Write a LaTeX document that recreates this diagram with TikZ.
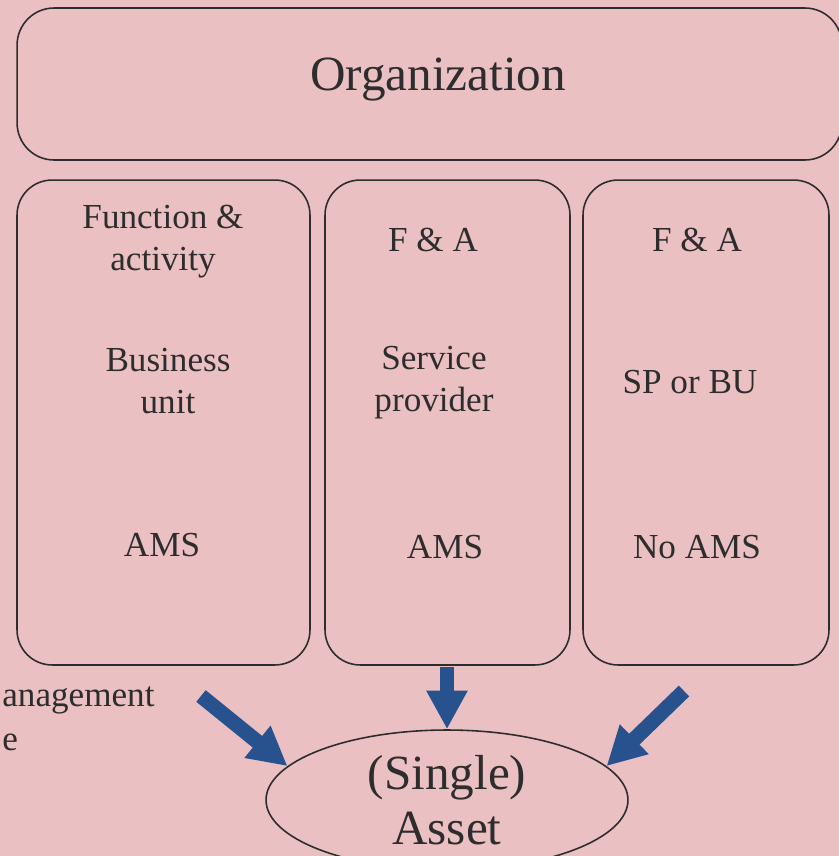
\documentclass[tikz,border=0pt]{standalone}
\usepackage{fontspec}
\setmainfont{Liberation Serif}
\usetikzlibrary{shapes.geometric,arrows.meta}
\definecolor{paper}{RGB}{234,192,195}
\definecolor{ink}{RGB}{45,45,45}
\definecolor{arrowblue}{RGB}{40,82,142}
\tikzstyle{panel}=[rounded corners=0.7cm, draw=ink, line width=0.9pt, minimum height=9.7cm, inner sep=0pt]
\tikzstyle{boxtext}=[text=ink, align=center, inner sep=0pt, font=\fontsize{20}{24}\selectfont]
\tikzstyle{bigtext}=[text=ink, align=center, font=\fontsize{28}{31}\selectfont]
\tikzstyle{push}=[arrowblue, line width=8.5pt, -{Triangle[width=22pt, length=22pt]}]

\begin{document}
\begin{tikzpicture}[x=0.02cm, y=-0.02cm]

\fill[paper] (0,0) rectangle (839,856);
\useasboundingbox (0,0) rectangle (839,856);

\node[draw=ink, line width=0.9pt, rounded corners=0.74cm, minimum width=16.5cm, minimum height=3.04cm, inner sep=0pt] (org) at (429.5,84) {};
\node[bigtext] (orgtext) at (438,80) {Organization};

\node[panel, minimum width=5.86cm] (unit) at (163.5,422.5) {};
\node[panel, minimum width=4.9cm] (provider) at (447.5,422.5) {};
\node[panel, minimum width=4.92cm] (other) at (706,422.5) {};

\node[boxtext] (fa1) at (163,242) {Function \&\\activity};
\node[boxtext] (bu) at (168,381) {Business\\unit};
\node[boxtext] (ams1) at (162,545) {AMS};

\node[boxtext] (fa2) at (433,240) {F \& A};
\node[boxtext] (sp) at (434,383) {Service\\provider};
\node[boxtext] (ams2) at (445,547) {AMS};

\node[boxtext] (fa3) at (697,240) {F \& A};
\node[boxtext] (spbu) at (690,382) {SP or BU};
\node[boxtext] (ams3) at (697,547) {No AMS};

\node[boxtext, anchor=west] (mgmt) at (2,700) {anagement};
\node[boxtext, anchor=west] (tail) at (2,742) {e};

\node[ellipse, draw=ink, line width=0.9pt, minimum width=7.24cm, minimum height=2.8cm, inner sep=0pt] (asset) at (447,800) {};
\node[bigtext] (assettext) at (447,800) {(Single)\\Asset};

\coordinate (from1) at (201,696);
\coordinate (from2) at (447,667);
\coordinate (from3) at (684,691);

\draw[push] (from1) -- (asset.168);
\draw[push] (from2) -- (asset.90);
\draw[push] (from3) -- (asset.12);

\end{tikzpicture}
\end{document}
